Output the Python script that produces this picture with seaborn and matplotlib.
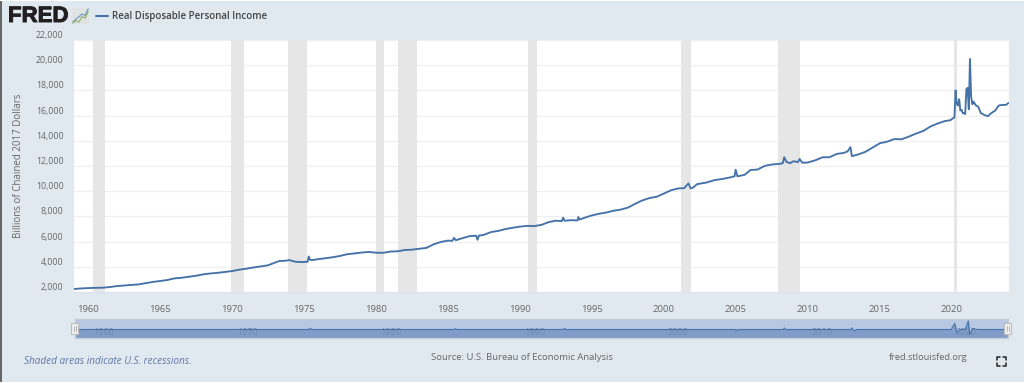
import matplotlib
matplotlib.use("Agg")
import matplotlib.pyplot as plt
import matplotlib.patheffects as pe
import seaborn as sns
import pandas as pd
from matplotlib.patches import Rectangle
from matplotlib.lines import Line2D

# ---------- data ----------
years = [1959.0, 1959.5, 1960.0, 1960.5, 1961.0, 1961.5, 1962.0, 1962.5, 1963.0, 1963.5, 1964.0, 1964.5,
         1965.0, 1965.5, 1966.0, 1966.5, 1967.0, 1967.5, 1968.0, 1968.5, 1969.0, 1969.5, 1970.0, 1970.5,
         1971.0, 1971.5, 1972.0, 1972.5, 1973.0, 1973.3, 1973.7, 1974.0, 1974.4, 1974.8, 1975.0, 1975.25,
         1975.33, 1975.42, 1975.55, 1976.0, 1976.5, 1977.0, 1977.5, 1978.0, 1978.5, 1979.0, 1979.5, 1980.0,
         1980.5, 1981.0, 1981.5, 1982.0, 1982.5, 1983.0, 1983.5, 1984.0, 1984.5, 1985.0, 1985.3, 1985.42,
         1985.55, 1986.0, 1986.5, 1986.95, 1987.05, 1987.15, 1987.5, 1988.0, 1988.5, 1989.0, 1989.5, 1990.0,
         1990.5, 1991.0, 1991.5, 1992.0, 1992.5, 1992.9, 1993.0, 1993.1, 1993.5, 1994.0, 1994.05, 1994.15,
         1994.5, 1995.0, 1995.5, 1996.0, 1996.5, 1997.0, 1997.5, 1998.0, 1998.5, 1999.0, 1999.5, 2000.0,
         2000.5, 2001.0, 2001.4, 2001.7, 2001.85, 2002.0, 2002.3, 2002.6, 2003.0, 2003.5, 2004.0, 2004.5,
         2004.9, 2004.98, 2005.1, 2005.6, 2006.0, 2006.5, 2007.0, 2007.5, 2008.0, 2008.25, 2008.35, 2008.5,
         2008.75, 2009.0, 2009.3, 2009.42, 2009.6, 2010.0, 2010.5, 2011.0, 2011.5, 2012.0, 2012.5, 2012.75,
         2012.95, 2013.05, 2013.5, 2014.0, 2014.5, 2015.0, 2015.5, 2016.0, 2016.5, 2017.0, 2017.5, 2018.0,
         2018.5, 2019.0, 2019.5, 2019.9, 2020.08, 2020.17, 2020.25, 2020.33, 2020.42, 2020.5, 2020.58, 2020.67,
         2020.75, 2020.83, 2020.92, 2021.0, 2021.08, 2021.17, 2021.25, 2021.33, 2021.42, 2021.5, 2021.67, 2021.83,
         2022.0, 2022.25, 2022.5, 2022.67, 2023.0, 2023.25, 2023.5, 2023.75, 2023.92]
income = [2230, 2280, 2310, 2330, 2340, 2390, 2470, 2510, 2560, 2600, 2700, 2800,
          2870, 2950, 3080, 3130, 3210, 3290, 3400, 3470, 3520, 3590, 3660, 3770,
          3850, 3950, 4030, 4120, 4340, 4460, 4480, 4530, 4400, 4380, 4380, 4400,
          4820, 4560, 4530, 4610, 4680, 4760, 4860, 5000, 5060, 5130, 5180, 5120,
          5110, 5210, 5230, 5330, 5360, 5430, 5500, 5780, 5970, 6080, 6060, 6300,
          6110, 6270, 6430, 6470, 6150, 6470, 6540, 6760, 6850, 7000, 7100, 7190,
          7250, 7230, 7330, 7550, 7660, 7620, 7900, 7650, 7700, 7680, 7950, 7750,
          7900, 8080, 8210, 8310, 8450, 8540, 8700, 9000, 9270, 9460, 9560, 9820,
          10080, 10220, 10240, 10620, 10220, 10270, 10560, 10620, 10700, 10880, 10960, 11070,
          11180, 11700, 11180, 11300, 11680, 11720, 12010, 12120, 12170, 12220, 12700, 12330,
          12220, 12380, 12310, 12560, 12260, 12280, 12450, 12690, 12700, 12960, 13040, 13160,
          13500, 12780, 12920, 13130, 13470, 13810, 13930, 14140, 14120, 14330, 14570, 14780,
          15130, 15370, 15560, 15640, 15800, 15850, 18000, 16950, 16800, 17300, 16400, 16450,
          16180, 16200, 16120, 18100, 18200, 16500, 20500, 17500, 16900, 17100, 16800, 16700,
          16200, 16050, 15950, 16150, 16400, 16800, 16850, 16850, 17000]

recession_start = [1960.33, 1969.95, 1973.87, 1980.02, 1981.55, 1990.55, 2001.2, 2007.95, 2020.12]
recession_end = [1961.15, 1970.87, 1975.2, 1980.55, 1982.88, 1991.2, 2001.87, 2009.47, 2020.33]

y_ticks = [2000, 4000, 6000, 8000, 10000, 12000, 14000, 16000, 18000, 20000, 22000]
x_ticks = [1960, 1965, 1970, 1975, 1980, 1985, 1990, 1995, 2000, 2005, 2010, 2015, 2020]
nav_labels = [1960, 1970, 1980, 1990, 2000, 2010, 2020]

nav_years = [1959.0, 1975.3, 1975.4, 1975.5, 1985.4, 1985.5, 1985.6, 1993.0, 1993.1, 1993.2, 2005.0, 2005.05, 2005.15,
             2008.3, 2008.4, 2008.5, 2013.0, 2013.1, 2013.25, 2013.4, 2020.0, 2020.25, 2020.4, 2020.6, 2021.0, 2021.1,
             2021.2, 2021.3, 2021.5, 2021.8, 2023.92]
nav_change = [0, 0, 1.2, 0, 0, 0.8, 0, 0, 1, 0, 0, -1.5, 0,
              0, 1.5, 0, 0, 1.5, -1.5, 0, 0, 6, -3, 0, 0, 5,
              8.5, -5, 1, 0, 0]

# ---------- colours ----------
BG = "#e1e9f0"
LINE = "#4572a7"
GRID = "#f0f0f0"
REC = "#e6e6e6"
TXT = "#666666"

W, H = 1024, 383
sns.set_theme(style="white")
plt.rcParams["font.family"] = ["Open Sans", "DejaVu Sans"]

fig = plt.figure(figsize=(W / 100, H / 100), dpi=100, facecolor=BG)


def box(x0, y0, x1, y1):
    return [x0 / W, 1 - y1 / H, (x1 - x0) / W, (y1 - y0) / H]


# ---------- main plot ----------
ax = fig.add_axes(box(74, 40, 1009, 292), facecolor="white")
df = pd.DataFrame({"year": years, "income": income})
for s, e in zip(recession_start, recession_end):
    ax.axvspan(s, e, color=REC, lw=0, zorder=1)
sns.lineplot(data=df, x="year", y="income", ax=ax, color=LINE, linewidth=1.35,
             estimator=None, sort=False, zorder=3)
ax.set_xlim(1959.03, 2023.96)
ax.set_ylim(2000, 22000)
ax.set_xlabel("")
ax.set_ylabel("Billions of Chained 2017 Dollars", fontsize=7, color=TXT, labelpad=0)
ax.yaxis.set_label_coords((24 - 74) / 935, 0.5)
ax.set_yticks(y_ticks)
ax.set_yticklabels([f"{v:,}" for v in y_ticks], fontsize=6.3, color=TXT)
for lab in ax.get_yticklabels():
    lab.set_verticalalignment("bottom")
ax.set_xticks(x_ticks)
ax.set_xticklabels([str(v) for v in x_ticks], fontsize=6.8, color=TXT)
ax.tick_params(axis="y", length=0, pad=7.5)
ax.tick_params(axis="x", length=6, width=0.8, color="#ccd6eb", pad=3, direction="out")
ax.grid(axis="y", color=GRID, linewidth=1, zorder=0.5)
ax.grid(axis="x", visible=False)
ax.set_axisbelow(True)
for side, sp in ax.spines.items():
    sp.set_visible(side == "bottom")
ax.spines["bottom"].set_color("#dbe4ee")
ax.spines["bottom"].set_linewidth(0.8)

# ---------- navigator ----------
nav = fig.add_axes(box(75, 319, 1008, 338), facecolor="#b9c8e2")
ndf = pd.DataFrame({"year": nav_years, "change": nav_change})
nav.fill_between(nav_years, nav_change, -10, color="#819cc8", lw=0, zorder=1)
sns.lineplot(data=ndf, x="year", y="change", ax=nav, color=LINE, linewidth=0.8,
             estimator=None, sort=False, zorder=3)
nav.set_xlim(1959.03, 2023.96)
nav.set_ylim(-8.5, 10.5)
nav.set_xticks([])
nav.set_yticks([])
nav.set_xlabel("")
nav.set_ylabel("")
for v in nav_labels:
    nav.text(v + 0.3, -3.0, str(v), fontsize=6.5, color="#7488ad", va="center", ha="left", zorder=2)
for sp in nav.spines.values():
    sp.set_color("#c4ccd8")
    sp.set_linewidth(1)

for x0 in (71, 1004):
    fig.add_artist(Rectangle((x0 / W, 1 - 334 / H), 7 / W, 11 / H, transform=fig.transFigure,
                             facecolor="#f2f2f2", edgecolor="#c0c0c0", lw=0.9, zorder=5))
    for dx in (3, 4.5):
        fig.add_artist(Line2D([(x0 + dx) / W] * 2, [1 - 326 / H, 1 - 331 / H], color="#aaaaaa", lw=0.6, zorder=6))

# ---------- header ----------
fig.text(8 / W, 1 - 16.5 / H, "FRED", fontsize=16, fontweight="bold", family="Liberation Sans",
         color="#231f20", va="center", ha="left",
         path_effects=[pe.withStroke(linewidth=0.7, foreground="#231f20")])
icon = fig.add_axes(box(72, 8, 89, 24), facecolor="#dfe3e3")
icon.plot([0, 1, 2, 3, 4, 5], [1, 2, 3, 4, 3.5, 6], color="#7095c8", lw=0.8)
icon.plot([0, 1, 2, 3, 4, 5], [0.5, 1.5, 1, 3, 2.5, 5], color="#8fb05f", lw=0.8)
icon.set_xticks([])
icon.set_yticks([])
for sp in icon.spines.values():
    sp.set_visible(False)

fig.add_artist(Line2D([96 / W, 108 / W], [1 - 16 / H] * 2, color=LINE, lw=1.5))
fig.text(112 / W, 1 - 16.5 / H, "Real Disposable Personal Income", fontsize=7, fontweight="semibold",
         color="#444444", va="center", ha="left")

# ---------- footer ----------
fig.text(24 / W, 1 - 361 / H, "Shaded areas indicate U.S. recessions.", fontsize=7.2, style="italic",
         color="#5f77a6", va="center", ha="left")
fig.text(431 / W, 1 - 357 / H, "Source: U.S. Bureau of Economic Analysis", fontsize=6.8, color=TXT,
         va="center", ha="left")
fig.text(889 / W, 1 - 357 / H, "fred.stlouisfed.org", fontsize=6.7, color=TXT, va="center", ha="left")

# fullscreen icon corners
for cx, cy, dx, dy in [(997, 357, 1, 1), (1006, 357, -1, 1), (997, 366, 1, -1), (1006, 366, -1, -1)]:
    fig.add_artist(Line2D([(cx + 3 * dx) / W, cx / W, cx / W],
                          [1 - cy / H, 1 - cy / H, 1 - (cy + 3 * dy) / H], color="#222222", lw=1.1))

# page edges
fig.add_artist(Rectangle((0, 0), 1.5 / W, 1, transform=fig.transFigure, facecolor="#666666", lw=0))
fig.add_artist(Rectangle((0, 0), 1, 1.5 / H, transform=fig.transFigure, facecolor="white", lw=0))
fig.add_artist(Rectangle((0, 1 - 1 / H), 1, 1 / H, transform=fig.transFigure, facecolor="white", lw=0))

fig.savefig("out.png", dpi=100, facecolor=BG)
